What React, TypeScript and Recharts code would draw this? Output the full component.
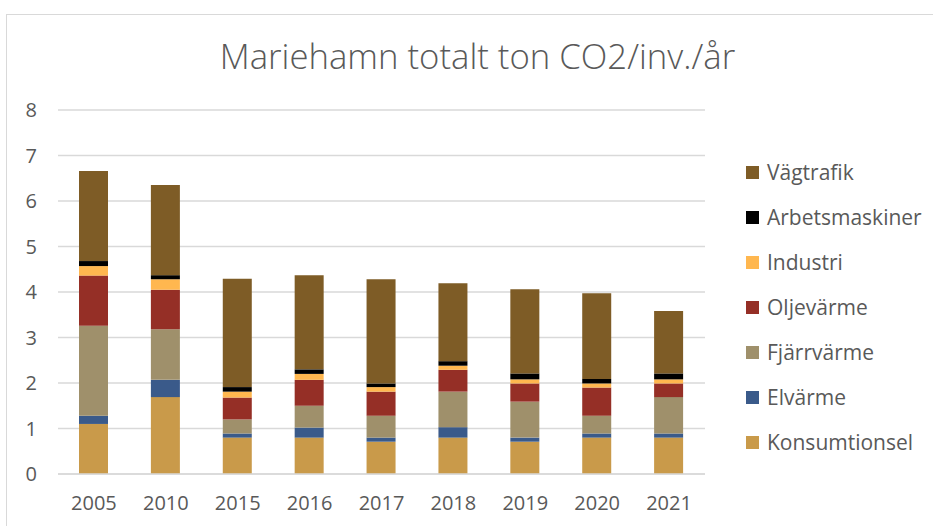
import { BarChart, Bar, XAxis, YAxis, CartesianGrid } from 'recharts';

const years = ['2005', '2010', '2015', '2016', '2017', '2018', '2019', '2020', '2021'];

// ton CO2 per invånare
const konsumtionsel = [1.1, 1.69, 0.8, 0.8, 0.71, 0.8, 0.71, 0.8, 0.8];
const elvarme = [0.18, 0.38, 0.09, 0.22, 0.09, 0.23, 0.09, 0.09, 0.09];
const fjarrvarme = [1.98, 1.11, 0.31, 0.48, 0.48, 0.78, 0.79, 0.39, 0.8];
const oljevarme = [1.1, 0.87, 0.48, 0.57, 0.53, 0.48, 0.4, 0.62, 0.3];
const industri = [0.21, 0.23, 0.13, 0.13, 0.1, 0.09, 0.09, 0.09, 0.09];
const arbetsmaskiner = [0.11, 0.09, 0.1, 0.1, 0.08, 0.1, 0.13, 0.1, 0.13];
const vagtrafik = [1.98, 1.98, 2.38, 2.07, 2.29, 1.71, 1.85, 1.88, 1.37];

const yTicks = [0, 1, 2, 3, 4, 5, 6, 7, 8];

const series = [
    { key: 'Konsumtionsel', values: konsumtionsel, color: '#C99A4A' },
    { key: 'Elvärme', values: elvarme, color: '#3A5A8A' },
    { key: 'Fjärrvärme', values: fjarrvarme, color: '#9F906B' },
    { key: 'Oljevärme', values: oljevarme, color: '#952F26' },
    { key: 'Industri', values: industri, color: '#FFB74F' },
    { key: 'Arbetsmaskiner', values: arbetsmaskiner, color: '#000000' },
    { key: 'Vägtrafik', values: vagtrafik, color: '#7E5C26' },
];

const data = years.map((year, i) => {
    const row: Record<string, string | number> = { year };
    series.forEach((s) => {
        row[s.key] = s.values[i];
    });
    return row;
});

const FONT = '"Open Sans", sans-serif';
const TEXT = '#595959';

export default function App() {
    return (
        <div style={{ position: 'absolute', left: 0, top: 0, width: 933, height: 526, background: '#fff' }}>
            <div
                style={{
                    position: 'absolute',
                    left: 6,
                    top: 14,
                    right: 0,
                    bottom: 0,
                    borderTop: '1.5px solid #d9d9d9',
                    borderLeft: '1.5px solid #d9d9d9',
                }}
            />
            <div
                style={{
                    position: 'absolute',
                    left: 0,
                    width: 955,
                    top: 39,
                    lineHeight: '34px',
                    textAlign: 'center',
                    fontFamily: FONT,
                    fontWeight: 300,
                    fontSize: 34.7,
                    color: TEXT,
                    whiteSpace: 'nowrap',
                }}
            >
                Mariehamn totalt ton CO2/inv./år
            </div>
            <BarChart
                width={933}
                height={526}
                data={data}
                margin={{ top: 110, right: 228, left: 0, bottom: 0 }}
                style={{ position: 'absolute', left: 0, top: 0 }}
            >
                <CartesianGrid vertical={false} stroke="#d9d9d9" strokeWidth={1.5} />
                <XAxis
                    dataKey="year"
                    axisLine={{ stroke: '#d9d9d9', strokeWidth: 1.5 }}
                    tickLine={false}
                    tickMargin={16}
                    tick={{ fill: TEXT, fontSize: 20, fontFamily: FONT }}
                    height={52}
                />
                <YAxis
                    domain={[0, 8]}
                    ticks={yTicks}
                    axisLine={false}
                    tickLine={false}
                    width={58}
                    tickMargin={15}
                    tick={{ fill: TEXT, fontSize: 20, fontFamily: FONT }}
                />
                {series.map((s) => (
                    <Bar key={s.key} dataKey={s.key} stackId="a" fill={s.color} barSize={29} isAnimationActive={false} />
                ))}
            </BarChart>
            <div style={{ position: 'absolute', left: 746, top: 149.5 }}>
                {[...series].reverse().map((s) => (
                    <div key={s.key} style={{ display: 'flex', alignItems: 'center', height: 45 }}>
                        <span style={{ width: 13, height: 13, background: s.color, marginRight: 8 }} />
                        <span style={{ fontFamily: FONT, fontSize: 21, color: TEXT, whiteSpace: 'nowrap' }}>{s.key}</span>
                    </div>
                ))}
            </div>
        </div>
    );
}
